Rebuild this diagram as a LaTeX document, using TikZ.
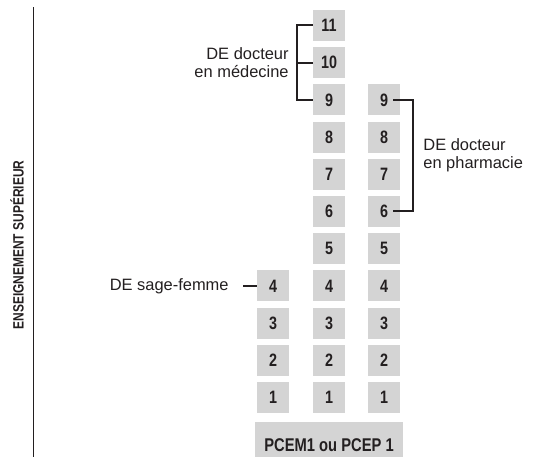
\documentclass[tikz,border=0pt]{standalone}
\usepackage{fontspec}
\setmainfont{Liberation Sans}
\newfontfamily\etroite{Liberation Sans}[FakeStretch=0.8]
\usepackage{xcolor}
\definecolor{fondcase}{RGB}{212,212,212}
\definecolor{encre}{RGB}{35,31,32}
\usetikzlibrary{positioning, calc}

\tikzset{
    annee/.style={fill=fondcase, minimum width=32bp, minimum height=31bp, inner sep=0pt,
        text=encre, font=\etroite\bfseries\fontsize{18}{18}\selectfont},
    legende/.style={inner sep=0pt, text=encre, font=\fontsize{16.5}{18}\selectfont},
    accolade/.style={draw=encre, line width=2bp}
}

\begin{document}
\begin{tikzpicture}[x=1bp, y=1bp]
    \useasboundingbox (0,0) rectangle (555,457);
    % Bandeau vertical
    \node[rotate=90, text=encre, inner sep=0pt, font=\etroite\bfseries\fontsize{15}{15}\selectfont] (titre) at (17,212) {ENSEIGNEMENT SUPÉRIEUR};
    \draw[encre, line width=0.8bp] (33,0) -- (33,450);

    % Colonnes des années
    \foreach \n in {1,...,4}
        \node[annee] (sf\n) at (273,{59.5+(\n-1)*37.2}) {\n};
    \foreach \n in {1,...,11}
        \node[annee] (med\n) at (329,{59.5+(\n-1)*37.2}) {\n};
    \foreach \n in {1,...,9}
        \node[annee] (pha\n) at (384,{59.5+(\n-1)*37.2}) {\n};

    % Première année commune
    \node[annee, minimum width=148bp, minimum height=46bp, font=\etroite\bfseries\fontsize{18.5}{18.5}\selectfont] (pcem) at (329,12) {PCEM1 ou PCEP 1};

    % Diplômes
    \node[legende, align=right, left=24bp of med10.west] (dmed) {DE docteur\\en médecine};
    \draw[accolade] (med11.west) -- ++(-16,0) |- (med9.west);
    \draw[accolade] (med10.west) -- ++(-16,0);

    \node[legende, align=left, anchor=west] (dpha) at ($(pha7.east)!0.5!(pha8.east)+(23,0)$) {DE docteur\\en pharmacie};
    \draw[accolade] ([xshift=-7bp]pha9.east) -- ++(20,0) |- ([xshift=-7bp]pha6.east);

    \node[legende, left=28bp of sf4.west] (dsf) {DE sage-femme};
    \draw[accolade] (sf4.west) -- ++(-14,0);
\end{tikzpicture}
\end{document}
